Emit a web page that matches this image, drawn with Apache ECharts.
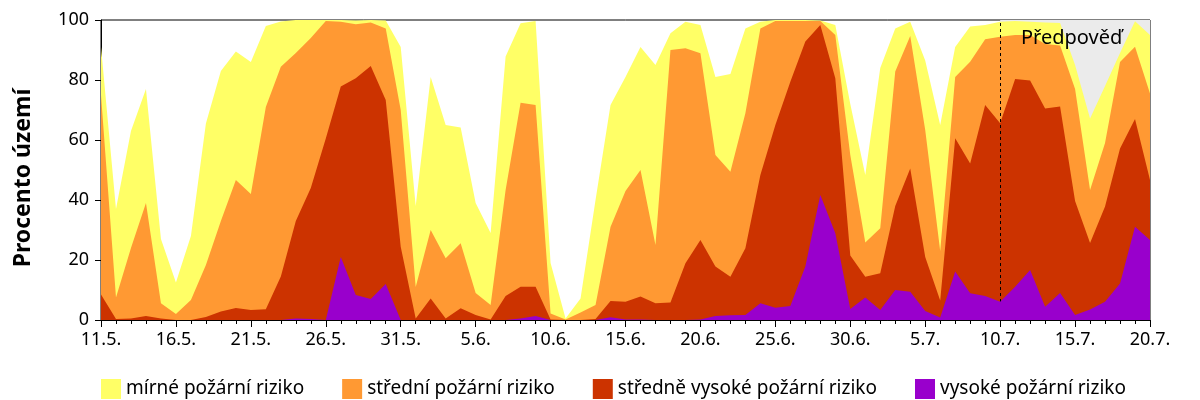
<!DOCTYPE html>
<html>
<head>
<meta charset="utf-8">
<script src="https://cdn.jsdelivr.net/npm/echarts@6/dist/echarts.min.js"></script>
<style>
  html, body { margin: 0; padding: 0; background: #fff; }
  #fire-risk { width: 1200px; height: 400px; }
</style>
</head>
<body>
<div id="fire-risk"></div>
<script>
// dny 11.5. - 20.7.
var days = [
  '11.5.', '12.5.', '13.5.', '14.5.', '15.5.', '16.5.', '17.5.', '18.5.', '19.5.', '20.5.',
  '21.5.', '22.5.', '23.5.', '24.5.', '25.5.', '26.5.', '27.5.', '28.5.', '29.5.', '30.5.',
  '31.5.', '1.6.', '2.6.', '3.6.', '4.6.', '5.6.', '6.6.', '7.6.', '8.6.', '9.6.',
  '10.6.', '11.6.', '12.6.', '13.6.', '14.6.', '15.6.', '16.6.', '17.6.', '18.6.', '19.6.',
  '20.6.', '21.6.', '22.6.', '23.6.', '24.6.', '25.6.', '26.6.', '27.6.', '28.6.', '29.6.',
  '30.6.', '1.7.', '2.7.', '3.7.', '4.7.', '5.7.', '6.7.', '7.7.', '8.7.', '9.7.',
  '10.7.', '11.7.', '12.7.', '13.7.', '14.7.', '15.7.', '16.7.', '17.7.', '18.7.', '19.7.',
  '20.7.'
];

// procento území s alespoň daným stupněm rizika (kumulativně)
var mirne = [
  91, 37, 63, 77, 27, 12.5, 28, 65.5, 83, 89.5, 86,
  98, 99.5, 100, 100, 100, 100, 99.8, 100, 99.8, 91,
  38, 81, 65, 64.2, 39, 29, 87.8, 98.9, 99.7, 19,
  0.5, 7.2, 40, 71.7, 81, 91, 85, 95.6, 99.4, 98.3,
  81, 82, 97.2, 99.4, 100, 100, 100, 99.8, 98.3, 72,
  48.3, 84, 97.2, 99.4, 86.5, 65, 91, 97.8, 98.3, 99.4,
  99.7, 99.4, 99.2, 99, 85, 67.2, 78, 89, 99.6, 95
];
var stredni = [
  75, 7.5, 24, 39, 5.6, 2, 6.7, 18.3, 33, 46.7, 42,
  71, 84.4, 89, 94, 99.7, 99.4, 98.6, 99.2, 97.2, 70,
  11, 30, 20.6, 25.6, 9, 5, 43.3, 72.4, 71.7, 2.2,
  0.2, 2.5, 5, 31, 43, 50, 25, 90, 90.6, 88.9,
  55, 49.4, 68.9, 97.2, 99.7, 99.7, 99.7, 99.7, 95, 55,
  25.8, 30.6, 82.8, 94.7, 63.3, 23, 81, 86.1, 93.6, 94.4,
  95, 95, 92, 91.5, 77, 43.3, 59, 86, 91.1, 75.5
];
var stredneVysoke = [
  8.5, 0.3, 0.5, 1.3, 0.5, 0, 0, 1, 2.8, 4, 3.3,
  3.6, 14.5, 33, 44, 60.5, 77.8, 80.6, 84.7, 73.3, 24.4,
  0.5, 7.2, 0.5, 3.9, 1.7, 0.2, 8, 11.1, 11.1, 0.2,
  0, 0, 0.3, 6.3, 6.1, 7.8, 5.6, 5.8, 18.9, 26.7,
  17.8, 14.4, 23.9, 48.3, 65, 79.4, 92.8, 98.3, 80.6, 21.5,
  14.4, 15.6, 38, 50.5, 21, 6.5, 60.6, 52.2, 71.7, 65.6,
  80.3, 79.8, 70.5, 71.2, 39.7, 25.7, 37.8, 57.2, 67, 46.7
];
var vysoke = [
  0, 0, 0, 0, 0, 0, 0, 0, 0, 0, 0,
  0, 0, 0.5, 0.3, 0, 21, 8.3, 7, 12, 0,
  0, 0, 0, 0, 0, 0, 0, 0.5, 1.3, 0,
  0, 0, 0, 0.9, 0.2, 0.2, 0, 0, 0, 0.2,
  1.3, 1.6, 1.7, 5.6, 4.1, 4.7, 17.8, 41.7, 28.9, 3.7,
  7.5, 3.3, 10, 9.4, 3, 0.8, 16.2, 8.9, 8, 6.1,
  11.1, 16.7, 4.4, 9, 1.7, 3.5, 6.1, 12.2, 31.1, 26.7
];

var yTicks = [0, 20, 40, 60, 80, 100];
var forecastStart = '10.7.';
var forecastEnd = '20.7.';

var font = 'Noto Sans';

var chartDom = document.getElementById('fire-risk');
var myChart = echarts.init(chartDom);
var option;

function area(name, data, color, z) {
  return {
    name: name,
    type: 'line',
    data: data,
    z: z,
    showSymbol: false,
    symbol: 'none',
    lineStyle: { width: 0, color: color },
    itemStyle: { color: color },
    areaStyle: { color: color, opacity: 1, origin: 'start' }
  };
}

option = {
  animation: false,
  backgroundColor: '#fff',
  textStyle: { fontFamily: font },
  grid: {
    left: 101, right: 50, top: 20, bottom: 80,
    show: true, borderColor: '#000', borderWidth: 1,
    backgroundColor: 'transparent'
  },
  legend: {
    left: 96,
    top: 374,
    itemWidth: 20,
    itemHeight: 20,
    itemGap: 38,
    icon: 'rect',
    textStyle: { fontSize: 19, color: '#000', fontFamily: font },
    data: ['mírné požární riziko', 'střední požární riziko', 'středně vysoké požární riziko', 'vysoké požární riziko']
  },
  xAxis: [
    {
      type: 'category',
      data: days,
      boundaryGap: false,
      axisLine: { lineStyle: { color: '#000', width: 1 } },
      axisTick: { interval: 4, length: 7, lineStyle: { color: '#000' } },
      axisLabel: { interval: 4, color: '#000', fontSize: 18, margin: 11, fontFamily: font },
      splitLine: { show: false }
    },
    {
      type: 'category',
      data: days,
      position: 'bottom',
      boundaryGap: false,
      axisLine: { show: false },
      axisTick: { interval: 0, length: 4, lineStyle: { color: '#000' } },
      axisLabel: { show: false },
      splitLine: { show: false }
    }
  ],
  yAxis: {
    type: 'value',
    min: yTicks[0],
    max: yTicks[yTicks.length - 1],
    interval: 20,
    name: 'Procento území',
    nameLocation: 'middle',
    nameGap: 66,
    nameTextStyle: { fontSize: 23, fontWeight: 'bold', color: '#000', fontFamily: font, padding: [0, 16, 0, 0] },
    axisLine: { show: true, lineStyle: { color: '#000', width: 1 } },
    axisTick: { show: true, length: 6, lineStyle: { color: '#000' } },
    axisLabel: { color: '#000', fontSize: 18, margin: 12, fontFamily: font },
    splitLine: { show: false }
  },
  graphic: [
    {
      type: 'text',
      left: 1021,
      top: 28,
      z: 100,
      style: { text: 'Předpověď', fill: '#000', font: '20px "Noto Sans"' }
    }
  ],
  series: [
    {
      name: 'forecast',
      type: 'line',
      data: [],
      z: 1,
      markArea: {
        silent: true,
        itemStyle: { color: '#ebebeb' },
        data: [[{ xAxis: forecastStart }, { xAxis: forecastEnd }]]
      }
    },
    area('mírné požární riziko', mirne, '#ffff66', 2),
    area('střední požární riziko', stredni, '#ff9933', 3),
    area('středně vysoké požární riziko', stredneVysoke, '#cc3300', 4),
    area('vysoké požární riziko', vysoke, '#9900cc', 5),
    {
      name: 'hranice',
      type: 'line',
      data: [],
      z: 6,
      markLine: {
        silent: true,
        symbol: 'none',
        label: { show: false },
        lineStyle: { color: '#000', type: [3, 3], width: 1 },
        data: [{ xAxis: forecastStart }]
      }
    }
  ]
};

option && myChart.setOption(option);
</script>
</body>
</html>
